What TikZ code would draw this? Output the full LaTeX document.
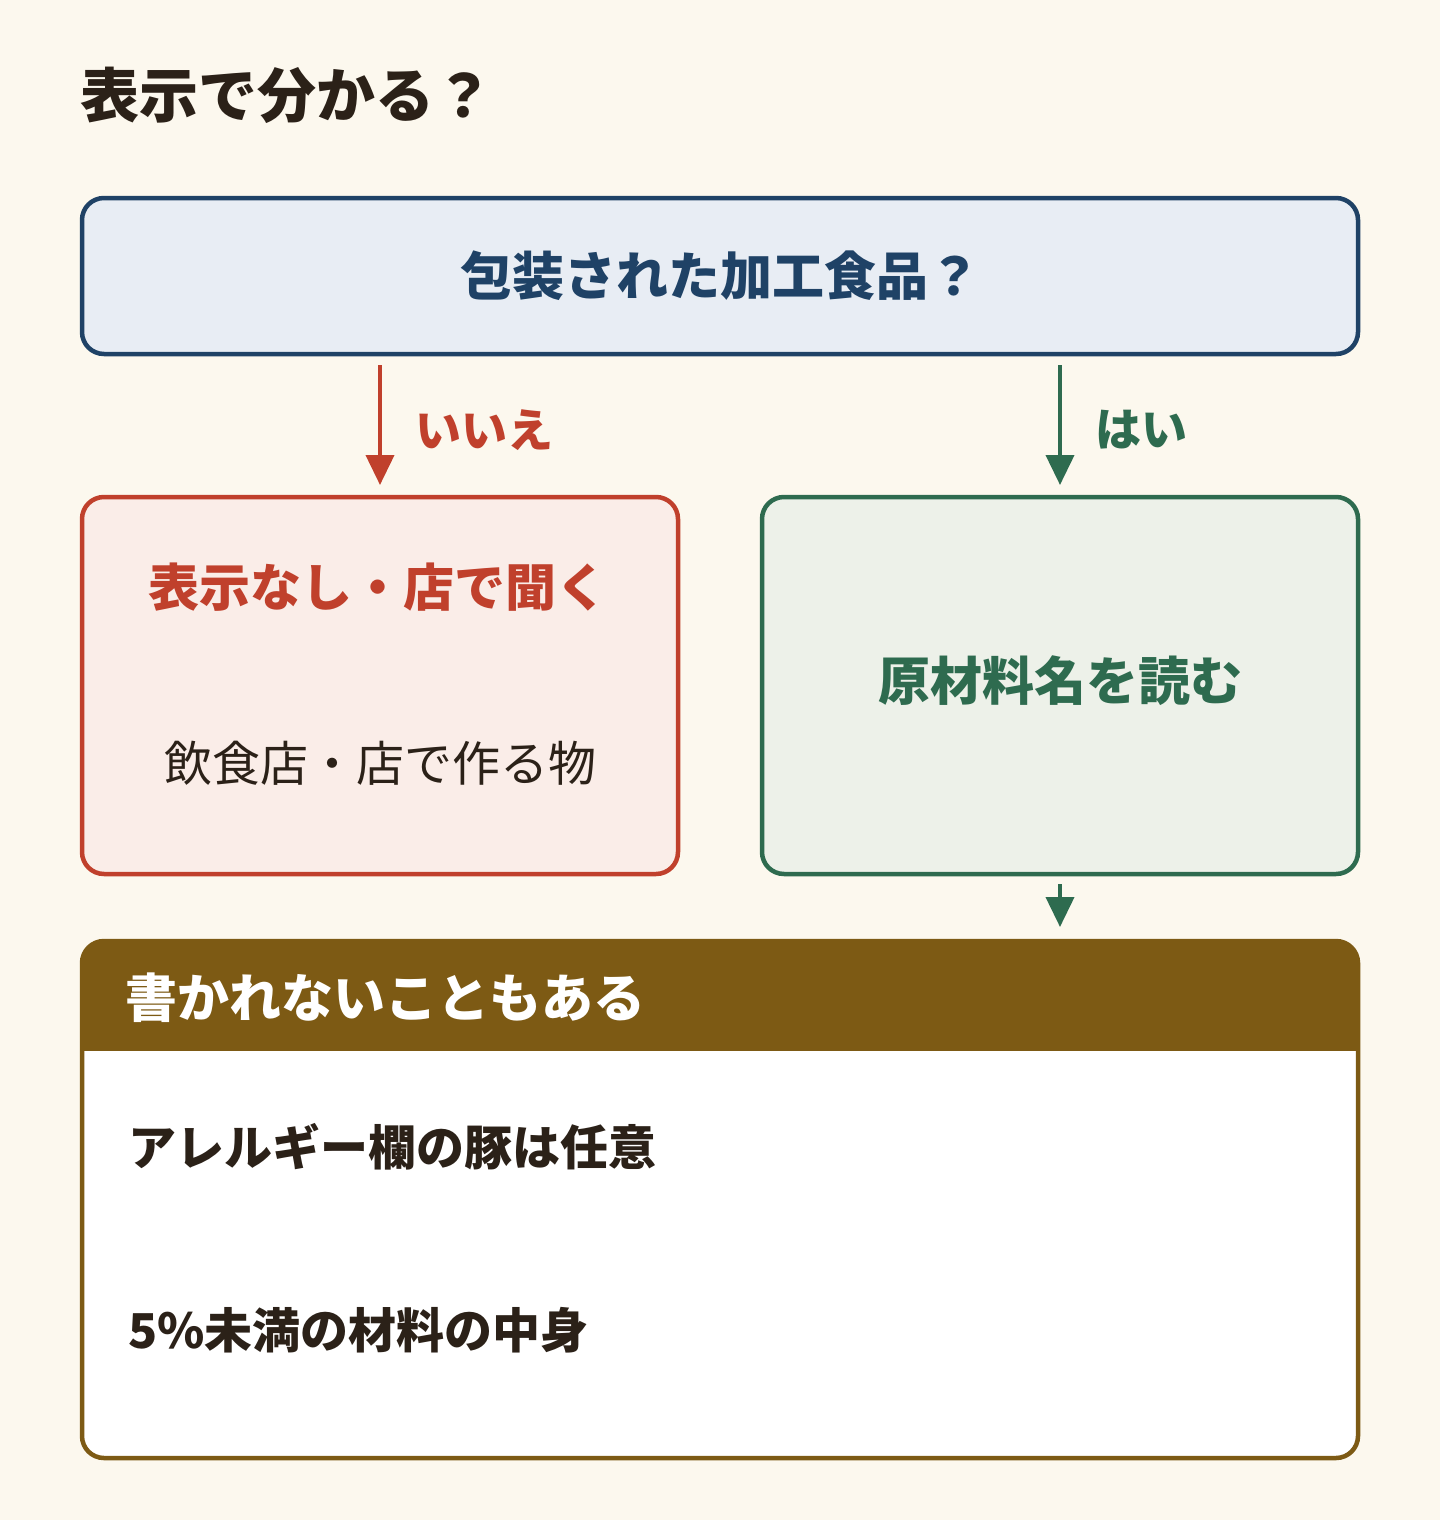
\documentclass[tikz,border=0pt]{standalone}
\usepackage{fontspec}
\setmainfont{Noto Sans CJK JP}
\usetikzlibrary{arrows.meta}
\definecolor{bgc}{HTML}{FCF8EE}
\definecolor{darkc}{HTML}{2B2118}
\definecolor{blueb}{HTML}{1F4266}
\definecolor{bluef}{HTML}{E8EDF4}
\definecolor{redc}{HTML}{C0402C}
\definecolor{redf}{HTML}{FAEDE8}
\definecolor{greenc}{HTML}{2E6B4F}
\definecolor{greenf}{HTML}{EDF1E9}
\definecolor{brownc}{HTML}{7D5A14}
\newcommand{\fs}[1]{\fontsize{#1}{#1}\selectfont}
\begin{document}
\begin{tikzpicture}[x=1pt,y=-1pt,
  box/.style={draw, line width=4.5pt, rounded corners=22pt, inner sep=0pt, outer sep=0pt},
  arr/.style={line width=4pt, -{Triangle[length=30pt,width=28pt]}},
  txt/.style={inner sep=0pt, outer sep=0pt}]
\fill[bgc] (0,0) rectangle (1440,1520);
\useasboundingbox (0,0) rectangle (1440,1520);

\node[txt, anchor=west, text=darkc, font=\bfseries\fs{59}] (title) at (80,95) {表示で分かる？};

\node[box, draw=blueb, fill=bluef, minimum width=1276pt, minimum height=156pt,
      text=blueb, font=\bfseries\fs{52}] (q) at (720,276) {包装された加工食品？};

\node[box, draw=redc, fill=redf, minimum width=596pt, minimum height=377pt] (no) at (380,685.5) {};
\node[box, draw=greenc, fill=greenf, minimum width=596pt, minimum height=377pt] (yes) at (1060,685.5) {};
\node[txt, text=greenc, font=\bfseries\fs{52}] (yestext) at (1060,681) {原材料名を読む};

\node[txt, text=redc, font=\bfseries\fs{51}] (notitle) at (378,587) {表示なし・店で聞く};
\node[txt, text=darkc, font=\fs{48}] (nosub) at (380,763) {飲食店・店で作る物};

\draw[arr, redc] ([yshift=-11pt]q.south -| no.north) -- ([yshift=12pt]no.north);
\draw[arr, greenc] ([yshift=-11pt]q.south -| yes.north) -- ([yshift=12pt]yes.north);
\node[txt, anchor=west, text=redc, font=\bfseries\fs{46}] (lno) at (415,430) {いいえ};
\node[txt, anchor=west, text=greenc, font=\bfseries\fs{46}] (lyes) at (1095,430) {はい};

% bottom note box
\begin{scope}
  \clip[rounded corners=22pt] (82,941) rectangle (1358,1458);
  \fill[white] (82,941) rectangle (1358,1458);
  \fill[brownc] (82,941) rectangle (1358,1051);
\end{scope}
\draw[brownc, line width=4.5pt, rounded corners=22pt] (82,941) rectangle (1358,1458);
\coordinate (ntop) at (1060,939);
\draw[arr, greenc] ([yshift=-10pt]yes.south) -- ([yshift=12pt]ntop);

\node[txt, anchor=west, text=white, font=\bfseries\fs{52}] (nhead) at (125,998) {書かれないこともある};
\node[txt, anchor=west, text=darkc, font=\bfseries\fs{48}] (n1) at (128,1147) {アレルギー欄の豚は任意};
\node[txt, anchor=west, text=darkc, font=\bfseries\fs{48}] (n2) at (128,1330) {5\%未満の材料の中身};
\end{tikzpicture}
\end{document}
